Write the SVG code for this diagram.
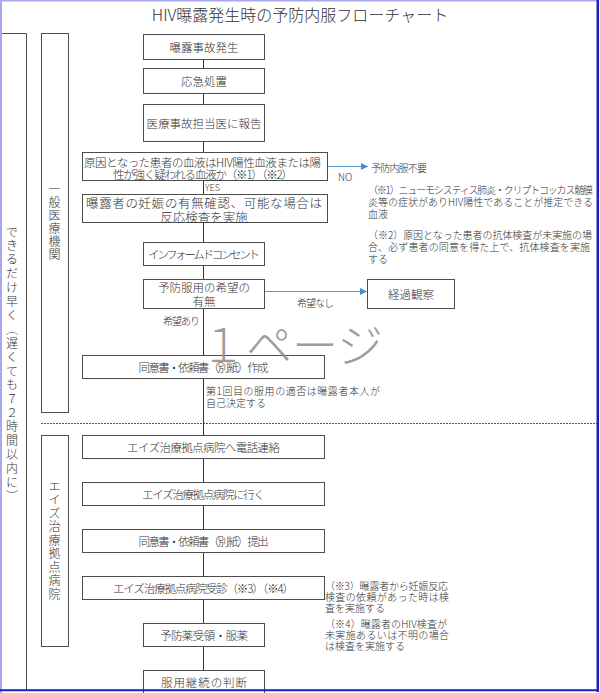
<svg xmlns="http://www.w3.org/2000/svg" width="600" height="693" viewBox="0 0 600 693">
<style>
.box{fill:#fff;stroke:#4d4d4d;stroke-width:1}
.col{fill:none;stroke:#4d4d4d;stroke-width:1}
.t{font-family:"Noto Sans CJK JP","Liberation Sans",sans-serif;font-weight:300;fill:#333;font-size:11.5px;text-anchor:middle;dominant-baseline:central}
.n{font-family:"Noto Sans CJK JP","Liberation Sans",sans-serif;font-weight:300;fill:#333;font-size:10px;dominant-baseline:central}
.v{font-family:"Noto Sans CJK JP","Liberation Sans",sans-serif;font-weight:300;fill:#333;font-size:12px;writing-mode:vertical-rl}
.c{stroke:#333;stroke-width:1;fill:none}
.b{stroke:#5b9bd5;stroke-width:1;fill:none}
</style>
<defs>
<marker id="arr" viewBox="0 0 10 10" refX="10" refY="5" markerWidth="7" markerHeight="7" markerUnits="userSpaceOnUse" orient="auto"><path d="M0,0 L10,5 L0,10 z" fill="#4a8ad4"/></marker>
</defs>
<rect width="600" height="693" fill="#fff"/>

<text x="300" y="14" class="t" style="font-size:16px">HIV曝露発生時の予防内服フローチャート</text>

<g id="col-outer">
<path class="col" d="M2,33.5 H26.5 V691"/>
<text class="v" x="12" y="226" style="letter-spacing:1.9px">できるだけ早く（遅くても７２時間以内に）</text>
</g>
<g id="col-general">
<rect class="box" x="41.5" y="33.5" width="27" height="379"/>
<text class="v" x="54.5" y="183" style="letter-spacing:1px">一般医療機関</text>
</g>
<g id="col-aids">
<rect class="box" x="41.5" y="435.5" width="27" height="211"/>
<text class="v" x="54.5" y="480" style="letter-spacing:1.5px">エイズ治療拠点病院</text>
</g>
<line x1="41" y1="423.5" x2="597" y2="423.5" stroke="#555" stroke-width="1" stroke-dasharray="2,1"/>

<g id="connectors">
<path class="c" d="M203.5,59 V68 M203.5,93 V104 M203.5,141 V152 M203.5,180 V194 M203.5,222 V242 M203.5,265 V279 M203.5,308 V355 M203.5,378 V435 M203.5,458 V482 M203.5,505 V529 M203.5,552 V576 M203.5,599 V623 M203.5,646 V670"/>
<path class="b" d="M327,166.5 H368" marker-end="url(#arr)"/>
<path class="b" d="M264,291.5 H367" marker-end="url(#arr)"/>
<text class="n" x="205" y="187.5" style="font-size:9px">YES</text>
<text class="n" x="338" y="176">NO</text>
<text class="n" x="297" y="302" textLength="37">希望なし</text>
<text class="n" x="163" y="320" textLength="37">希望あり</text>
</g>

<g id="n1"><rect class="box" x="143.5" y="34.5" width="121" height="25"/><text class="t" x="204" y="47">曝露事故発生</text></g>
<g id="n2"><rect class="box" x="143.5" y="68.5" width="121" height="25"/><text class="t" x="204" y="81">応急処置</text></g>
<g id="n3"><rect class="box" x="143.5" y="104.5" width="121" height="37"/><text class="t" x="204" y="123">医療事故担当医に報告</text></g>
<g id="n4"><rect class="box" x="82.5" y="152.5" width="245" height="28"/>
<text class="t" x="202.5" y="162" textLength="237">原因となった患者の血液はHIV陽性血液または陽</text>
<text class="t" x="203" y="174" textLength="180">性が強く疑われる血液か（※1）（※2）</text></g>
<g id="n5"><rect class="box" x="82.5" y="194.5" width="245" height="28"/>
<text class="t" x="204" y="202" style="font-size:12.5px" textLength="236">曝露者の妊娠の有無確認、可能な場合は</text>
<text class="t" x="204" y="216" style="font-size:12.5px">反応検査を実施</text></g>
<g id="n6"><rect class="box" x="143.5" y="242.5" width="121" height="23"/><text class="t" x="204" y="254" textLength="112">インフォームドコンセント</text></g>
<g id="n7"><rect class="box" x="143.5" y="279.5" width="121" height="29"/>
<text class="t" x="204" y="287">予防服用の希望の</text><text class="t" x="204" y="301">有無</text></g>
<g id="n-keika"><rect class="box" x="367.5" y="279.5" width="87" height="29"/><text class="t" x="411" y="294">経過観察</text></g>
<g id="n8"><rect class="box" x="82.5" y="355.5" width="242" height="23"/><text class="t" x="203.5" y="367" textLength="130">同意書・依頼書（別紙）作成</text></g>
<g id="n9"><rect class="box" x="82.5" y="435.5" width="242" height="23"/><text class="t" x="203.5" y="447" textLength="153">エイズ治療拠点病院へ電話連絡</text></g>
<g id="n10"><rect class="box" x="82.5" y="482.5" width="242" height="23"/><text class="t" x="203.5" y="494" textLength="123">エイズ治療拠点病院に行く</text></g>
<g id="n11"><rect class="box" x="82.5" y="529.5" width="242" height="23"/><text class="t" x="203.5" y="541" textLength="130">同意書・依頼書（別紙）提出</text></g>
<g id="n12"><rect class="box" x="82.5" y="576.5" width="242" height="23"/><text class="t" x="203.5" y="588" textLength="181">エイズ治療拠点病院受診（※3）（※4）</text></g>
<g id="n13"><rect class="box" x="143.5" y="623.5" width="121" height="23"/><text class="t" x="204" y="635" textLength="88">予防薬受領・服薬</text></g>
<g id="n14"><rect class="box" x="143.5" y="670.5" width="121" height="26"/><text class="t" x="204" y="682" textLength="86">服用継続の判断</text></g>

<g id="notes">
<text class="n" x="371" y="167" textLength="56">予防内服不要</text>
<text class="n" x="368" y="189" textLength="225">（※1）ニューモシスティス肺炎・クリプトコッカス髄膜</text>
<text class="n" x="368" y="201" textLength="225">炎等の症状がありHIV陽性であることが推定できる</text>
<text class="n" x="368" y="213">血液</text>
<text class="n" x="368" y="234" textLength="224">（※2）原因となった患者の抗体検査が未実施の場</text>
<text class="n" x="368" y="246" textLength="222">合、必ず患者の同意を得た上で、抗体検査を実施</text>
<text class="n" x="368" y="258">する</text>
<text class="n" x="206" y="390" textLength="174">第1回目の服用の適否は曝露者本人が</text>
<text class="n" x="206" y="402">自己決定する</text>
<text class="n" x="325" y="585" textLength="123">（※3）曝露者から妊娠反応</text>
<text class="n" x="325" y="596" textLength="124">検査の依頼があった時は検</text>
<text class="n" x="325" y="607">査を実施する</text>
<text class="n" x="325" y="623" textLength="122">（※4）曝露者のHIV検査が</text>
<text class="n" x="325" y="634" textLength="124">未実施あるいは不明の場合</text>
<text class="n" x="325" y="645">は検査を実施する</text>
</g>

<text x="200" y="362" font-family="Noto Sans CJK JP, sans-serif" font-weight="300" font-size="46" fill="#8f8f8f" fill-opacity="0.9">１ページ</text>

<g id="frame">
<line x1="0" y1="0.75" x2="597" y2="0.75" stroke="#a8a8f0" stroke-width="1.5"/>
<line x1="1" y1="0" x2="1" y2="693" stroke="#a8a8f0" stroke-width="2"/>
<line x1="597.8" y1="0" x2="597.8" y2="692" stroke="#1c1cbf" stroke-width="2.5"/>
<line x1="0" y1="690.3" x2="599" y2="690.3" stroke="#1c1cbf" stroke-width="2"/>
</g>
</svg>
